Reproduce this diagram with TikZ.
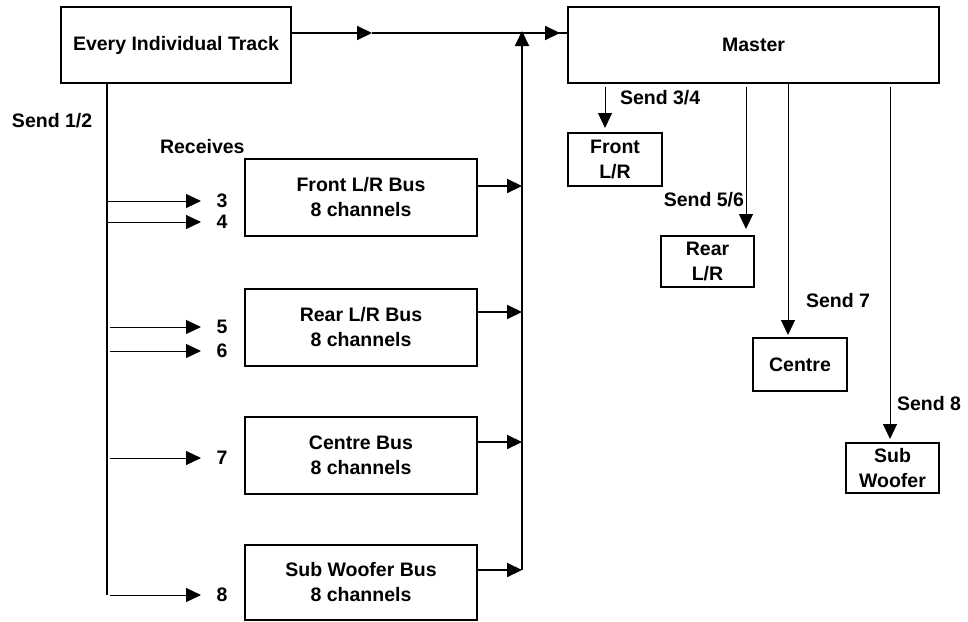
\documentclass[tikz,border=0pt]{standalone}
\usepackage{fontspec}
\setmainfont{Liberation Sans}
\usetikzlibrary{arrows.meta}
\begin{document}
\begin{tikzpicture}[x=1pt,y=-1pt,
  txt/.style={font=\bfseries\fontsize{19.5}{25}\selectfont, inner sep=0pt, outer sep=0pt, align=center},
  box/.style={txt, draw, line width=2pt},
  flow/.style={line width=2pt},
  thin/.style={line width=1pt},
  tip/.style={-{Triangle[length=15pt,width=14pt]}}]
\useasboundingbox (0,0) rectangle (968,621);

% main boxes
\node[box, minimum width=230pt, minimum height=76pt] (eit) at (176,45) {Every Individual Track};
\node[box, minimum width=371pt, minimum height=76pt] (master) at (753.5,45) {Master};

% bus boxes
\node[box, minimum width=232pt, minimum height=77pt] (fbus) at (361,197.5) {Front L/R Bus\\8 channels};
\node[box, minimum width=232pt, minimum height=77pt] (rbus) at (361,327) {Rear L/R Bus\\8 channels};
\node[box, minimum width=232pt, minimum height=77pt] (cbus) at (361,455.5) {Centre Bus\\8 channels};
\node[box, minimum width=232pt, minimum height=75pt] (sbus) at (361,582) {Sub Woofer Bus\\8 channels};

% output boxes
\node[box, minimum width=94pt, minimum height=53pt] (front) at (615,159.5) {Front\\L/R};
\node[box, minimum width=93pt, minimum height=51pt] (rear) at (707.5,261.5) {Rear\\L/R};
\node[box, minimum width=94pt, minimum height=53pt] (centre) at (800,364.5) {Centre};
\node[box, minimum width=93pt, minimum height=50pt] (sub) at (892.5,468) {Sub\\Woofer};

% labels
\node[txt, anchor=west] (l12) at (12,121) {Send 1/2};
\node[txt, anchor=west] (lrec) at (160,147) {Receives};
\node[txt] (n3) at (222,201) {3};
\node[txt] (n4) at (222,222) {4};
\node[txt] (n5) at (222,327) {5};
\node[txt] (n6) at (222,351) {6};
\node[txt] (n7) at (222,458) {7};
\node[txt] (n8) at (222,595) {8};
\node[txt, anchor=west] (l34) at (620,98) {Send 3/4};
\node[txt, anchor=east] (l56) at (744,200) {Send 5/6};
\node[txt, anchor=west] (l7) at (806,301) {Send 7};
\node[txt, anchor=west] (l8) at (897,404) {Send 8};

% coordinates
\coordinate (mid) at (372,33);
\coordinate (jn) at (522,33);
\coordinate (mtip) at (560,33);
\coordinate (busbot) at (522,570);
\coordinate (left) at (107,83);
\coordinate (leftbot) at (107,595);

% top flow
\draw[flow, tip] (eit.east |- mid) -- (mid);
\draw[flow] (mid) -- (master.west |- mid);
\draw[flow, tip] (jn) -- (mtip);

% bus collector
\draw[flow, tip] (busbot) -- ([yshift=2pt]jn);
\draw[flow, tip] (fbus.east |- 0,186) -- (522,186);
\draw[flow, tip] (rbus.east |- 0,312) -- (522,312);
\draw[flow, tip] (cbus.east |- 0,442) -- (522,442);
\draw[flow, tip] (sbus.east |- 0,570) -- (busbot);

% left sends
\draw[flow] (eit.south -| left) -- (leftbot);
\draw[thin, tip] (107,201) -- (201,201);
\draw[thin, tip] (107,222) -- (201,222);
\draw[thin, tip] (110,327) -- (201,327);
\draw[thin, tip] (110,351) -- (201,351);
\draw[thin, tip] (110,458) -- (201,458);
\draw[thin, tip] (110,595) -- (201,595);

% right sends
\coordinate (s34) at (605,87);
\coordinate (s56) at (746,87);
\coordinate (s7) at (788,83);
\coordinate (s8) at (890,87);
\draw[thin, tip, shorten >=5pt] (s34) -- (s34 |- front.north);
\draw[thin, tip, shorten >=7pt] (s56) -- (s56 |- rear.north);
\draw[thin, tip, shorten >=3pt] (s7) -- (s7 |- centre.north);
\draw[thin, tip, shorten >=4pt] (s8) -- (s8 |- sub.north);
\end{tikzpicture}
\end{document}
